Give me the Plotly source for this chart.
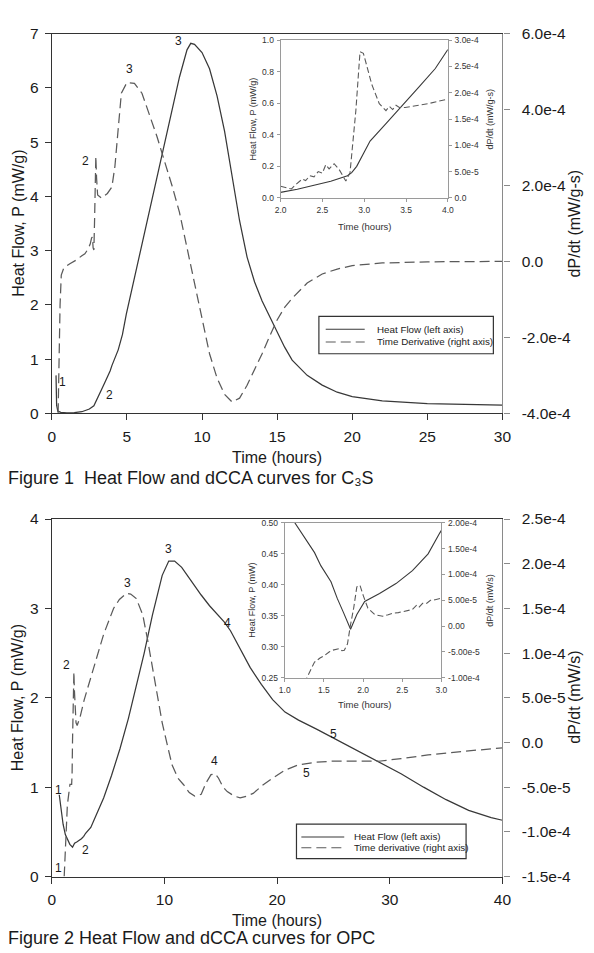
import plotly.graph_objects as go

W, H = 594, 953

# ---------------- Figure 1 (C3S) main data ----------------
f1_t_heat = [0.28, 0.32, 0.4, 0.6, 1.0, 1.5, 2.0, 2.5, 2.8, 3.0, 3.12, 3.5, 3.88, 4.0, 4.42, 4.7, 4.96,
             5.5, 6.0, 6.5, 7.0, 7.5, 8.0, 8.5, 9.0, 9.25, 9.5, 10.0, 10.5, 11.0, 11.5, 12.0, 12.5,
             13.0, 13.5, 14.0, 14.5, 15.0, 15.5, 16.0, 17.0, 18.0, 19.0, 20.0, 22.0, 25.0, 30.0]
f1_heat = [0.70, 0.15, 0.04, 0.02, 0.01, 0.012, 0.03, 0.08, 0.14, 0.25, 0.32, 0.55, 0.78, 0.88, 1.17, 1.45, 1.83,
           2.5, 3.1, 3.7, 4.3, 4.95, 5.6, 6.2, 6.7, 6.82, 6.8, 6.65, 6.35, 5.85, 5.2, 4.35, 3.55,
           2.88, 2.42, 2.07, 1.78, 1.5, 1.22, 0.98, 0.7, 0.52, 0.39, 0.31, 0.23, 0.18, 0.15]

f1_t_der = [0.42, 0.48, 0.55, 0.63, 0.8, 1.2, 1.6, 2.0, 2.2, 2.4, 2.55, 2.65, 2.7, 2.75, 2.8, 2.85, 2.93,
            2.98, 3.05, 3.3, 3.7, 4.0, 4.2, 4.4, 4.63, 5.0, 5.5, 6.0, 6.5, 7.0, 7.5, 8.0, 8.5, 9.0,
            9.5, 10.0, 10.5, 11.0, 11.5, 12.0, 12.5, 13.0, 13.5, 14.0, 14.5, 15.0, 15.5, 16.0, 17.0,
            18.0, 19.0, 20.0, 22.0, 25.0, 30.0]
f1_der_e4 = [-4.0, -2.57, -1.14, -0.36, -0.17, -0.06, 0.03, 0.15, 0.2, 0.32, 0.45, 0.62, 0.64, 0.36, 0.3, 1.14, 2.77,
             2.2, 1.75, 1.67, 1.79, 1.96, 2.5, 3.4, 4.43, 4.71, 4.69, 4.43, 3.86, 3.29, 2.64, 2.0, 1.29, 0.36,
             -0.64, -1.57, -2.43, -3.07, -3.5, -3.7, -3.6, -3.26, -2.86, -2.43, -1.97, -1.54, -1.21, -0.97, -0.57,
             -0.33, -0.2, -0.11, -0.04, -0.01, 0.0]
f1_der = [v * 1e-4 for v in f1_der_e4]

# ---------------- Figure 1 inset data ----------------
f1i_t_heat = [2.0, 2.2, 2.4, 2.6, 2.8, 2.85, 2.91, 3.0, 3.07, 3.26, 3.46, 3.65, 3.85, 4.0]
f1i_heat = [0.035, 0.055, 0.08, 0.105, 0.14, 0.16, 0.2, 0.29, 0.36, 0.47, 0.585, 0.7, 0.82, 0.94]
f1i_t_der = [2.0, 2.07, 2.13, 2.18, 2.21, 2.26, 2.3, 2.35, 2.4, 2.45, 2.5, 2.54, 2.58, 2.64, 2.7, 2.78,
             2.83, 2.9, 2.95, 2.99, 3.09, 3.18, 3.26, 3.3, 3.34, 3.38, 3.42, 3.49, 3.76, 4.0]
f1i_der_e4 = [0.22, 0.2, 0.17, 0.25, 0.29, 0.36, 0.33, 0.42, 0.4, 0.5, 0.47, 0.63, 0.55, 0.65, 0.54, 0.32,
              0.48, 1.66, 2.78, 2.75, 2.16, 1.79, 1.66, 1.74, 1.68, 1.76, 1.72, 1.72, 1.79, 1.88]
f1i_der = [v * 1e-4 for v in f1i_der_e4]

# ---------------- Figure 2 (OPC) main data ----------------
f2_t_heat = [0.66, 0.8, 1.0, 1.2, 1.44, 1.6, 1.84, 1.92, 2.02, 2.21, 2.42, 2.63, 2.83, 3.0, 3.46, 4.0,
             4.6, 5.3, 6.05, 6.8, 7.5, 8.2, 8.94, 9.4, 9.8, 10.38, 10.9, 11.53, 12.4, 13.26, 14.0,
             14.7, 15.3, 15.86, 16.7, 17.6, 18.6, 19.6, 20.7, 21.9, 23.5, 25.0, 27.0, 29.0, 31.0,
             33.0, 35.0, 37.0, 39.0, 40.0]
f2_heat = [0.915, 0.76, 0.585, 0.47, 0.40, 0.36, 0.328, 0.352, 0.373, 0.386, 0.402, 0.423, 0.45, 0.484, 0.55, 0.7,
           0.88, 1.13, 1.43, 1.77, 2.12, 2.5, 2.93, 3.17, 3.37, 3.53, 3.53, 3.46, 3.3, 3.15, 3.03,
           2.93, 2.85, 2.75, 2.55, 2.34, 2.15, 1.98, 1.84, 1.75, 1.65, 1.55, 1.42, 1.29, 1.15,
           1.0, 0.86, 0.74, 0.66, 0.63]

f2_t_der = [1.1, 1.2, 1.28, 1.38, 1.51, 1.61, 1.76, 1.8, 1.84, 1.88, 1.92, 1.96, 2.0, 2.06, 2.15, 2.25,
            2.5, 2.88, 3.75, 4.6, 5.48, 6.0, 6.63, 7.0, 7.5, 8.07, 8.5, 8.94, 9.4, 9.8, 10.2, 10.67,
            11.2, 11.68, 12.2, 12.68, 13.26, 13.7, 14.13, 14.5, 14.8, 15.2, 15.57, 16.2, 16.72, 17.3,
            17.87, 18.7, 19.6, 20.7, 21.9, 23.5, 24.8, 27.0, 29.0, 31.0, 33.4, 36.5, 40.0]
f2_der_e4 = [-1.5, -1.25, -1.0, -0.7, -0.57, -0.47, -0.47, -0.35, 0.03, 0.35, 0.76, 0.79, 0.6, 0.35, 0.22, 0.19,
             0.28, 0.48, 0.84, 1.21, 1.5, 1.6, 1.67, 1.66, 1.61, 1.43, 1.15, 0.84, 0.5, 0.22, 0.0, -0.25,
             -0.4, -0.47, -0.56, -0.6, -0.58, -0.45, -0.36, -0.35, -0.4, -0.5, -0.55, -0.6, -0.62, -0.6,
             -0.57, -0.48, -0.4, -0.31, -0.25, -0.22, -0.21, -0.21, -0.21, -0.18, -0.14, -0.1, -0.06]
f2_der = [v * 1e-4 for v in f2_der_e4]

# ---------------- Figure 2 inset data ----------------
f2i_t_heat = [1.0, 1.13, 1.38, 1.46, 1.59, 1.67, 1.75, 1.84, 1.92, 2.02, 2.21, 2.42, 2.63, 2.83, 2.98, 3.0]
f2i_heat = [0.53, 0.50, 0.452, 0.431, 0.405, 0.378, 0.355, 0.328, 0.352, 0.373, 0.386, 0.402, 0.423, 0.45, 0.484, 0.488]
f2i_t_der = [1.25, 1.28, 1.38, 1.45, 1.51, 1.57, 1.61, 1.69, 1.73, 1.76, 1.8, 1.84, 1.88, 1.92, 1.96, 2.0,
             2.06, 2.15, 2.25, 2.32, 2.38, 2.45, 2.5, 2.57, 2.63, 2.68, 2.71, 2.76, 2.81, 2.86, 2.92, 3.0]
f2i_der_e4 = [-1.1, -1.0, -0.7, -0.62, -0.57, -0.5, -0.47, -0.44, -0.48, -0.47, -0.35, 0.03, 0.35, 0.76, 0.79, 0.6,
              0.35, 0.22, 0.19, 0.22, 0.25, 0.26, 0.28, 0.3, 0.32, 0.4, 0.36, 0.44, 0.44, 0.5, 0.51, 0.54]
f2i_der = [v * 1e-4 for v in f2i_der_e4]

# tick labels
f1_x_ticks = [0, 5, 10, 15, 20, 25, 30]
f1_y_ticks = [0, 1, 2, 3, 4, 5, 6, 7]
f1_y2_vals = [-4e-4, -2e-4, 0.0, 2e-4, 4e-4, 6e-4]
f1_y2_text = ["-4.0e-4", "-2.0e-4", "0.0", "2.0e-4", "4.0e-4", "6.0e-4"]
f1i_x_ticks = [2.0, 2.5, 3.0, 3.5, 4.0]
f1i_x_text = ["2.0", "2.5", "3.0", "3.5", "4.0"]
f1i_y_ticks = [0.0, 0.2, 0.4, 0.6, 0.8, 1.0]
f1i_y_text = ["0.0", "0.2", "0.4", "0.6", "0.8", "1.0"]
f1i_y2_vals = [0.0, 5e-5, 1e-4, 1.5e-4, 2e-4, 2.5e-4, 3e-4]
f1i_y2_text = ["0.0", "5.0e-5", "1.0e-4", "1.5e-4", "2.0e-4", "2.5e-4", "3.0e-4"]

f2_x_ticks = [0, 10, 20, 30, 40]
f2_y_ticks = [0, 1, 2, 3, 4]
f2_y2_vals = [-1.5e-4, -1e-4, -5e-5, 0.0, 5e-5, 1e-4, 1.5e-4, 2e-4, 2.5e-4]
f2_y2_text = ["-1.5e-4", "-1.0e-4", "-5.0e-5", "0.0", "5.0e-5", "1.0e-4", "1.5e-4", "2.0e-4", "2.5e-4"]
f2i_x_ticks = [1.0, 1.5, 2.0, 2.5, 3.0]
f2i_x_text = ["1.0", "1.5", "2.0", "2.5", "3.0"]
f2i_y_ticks = [0.25, 0.30, 0.35, 0.40, 0.45, 0.50]
f2i_y_text = ["0.25", "0.30", "0.35", "0.40", "0.45", "0.50"]
f2i_y2_vals = [-1e-4, -5e-5, 0.0, 5e-5, 1e-4, 1.5e-4, 2e-4]
f2i_y2_text = ["-1.00e-4", "-5.00e-5", "0.00", "5.00e-5", "1.00e-4", "1.50e-4", "2.00e-4"]

# peak labels: (text, time, heat-flow units)
f1_labels = [("1", 0.73, 0.57), ("2", 3.83, 0.34), ("2", 2.25, 4.65), ("3", 5.15, 6.35), ("3", 8.45, 6.87)]
f2_labels = [("1", 0.63, 0.97), ("1", 0.63, 0.09), ("2", 1.32, 2.37), ("2", 2.97, 0.30),
             ("3", 6.69, 3.28), ("3", 10.4, 3.66), ("4", 15.6, 2.84), ("4", 14.4, 1.29),
             ("5", 25.0, 1.59), ("5", 22.6, 1.16)]

FONT = "Liberation Sans, Arial, sans-serif"
SOLID = "#383838"
DASHC = "#5a5a5a"
MAIN_DASH = "10px,5px"
INSET_DASH = "6px,3px"


def px_x(p):
    return p / W


def px_y(p):
    return 1 - p / H


fig = go.Figure()

def add_line(x, y, xa, ya, dashed, name, inset=False):
    fig.add_trace(go.Scatter(
        x=x, y=y, xaxis=xa, yaxis=ya, mode="lines", name=name, showlegend=False,
        line=dict(color=DASHC if dashed else SOLID, width=1.1 if inset else 1.25,
                  dash=(INSET_DASH if inset else MAIN_DASH) if dashed else "solid"),
        hoverinfo="skip"))

add_line(f1_t_heat, f1_heat, "x", "y", False, "Heat Flow (left axis)")
add_line(f1_t_der, f1_der, "x", "y2", True, "Time Derivative (right axis)")
add_line(f1i_t_heat, f1i_heat, "x2", "y3", False, "Heat Flow", inset=True)
add_line(f1i_t_der, f1i_der, "x2", "y4", True, "dP/dt", inset=True)
add_line(f2_t_heat, f2_heat, "x3", "y5", False, "Heat Flow (left axis)")
add_line(f2_t_der, f2_der, "x3", "y6", True, "Time derivative (right axis)")
add_line(f2i_t_heat, f2i_heat, "x4", "y7", False, "Heat Flow", inset=True)
add_line(f2i_t_der, f2i_der, "x4", "y8", True, "dP/dt", inset=True)

main_x_dom = [px_x(47), px_x(509.3)]
f1_y_dom = [px_y(411.7), px_y(25)]
f2_y_dom = [px_y(883.3), px_y(519.3)]
f1i_x_dom = [px_x(281.7), px_x(453.3)]
f1i_y_dom = [px_y(192.3), px_y(31.7)]
f2i_x_dom = [px_x(286), px_x(446.7)]
f2i_y_dom = [px_y(680.7), px_y(523.3)]

def main_axis(**kw):
    d = dict(showgrid=False, zeroline=False, showline=True, linecolor="#333", linewidth=1.2,
             ticks="outside", ticklen=6, tickwidth=1.2, tickcolor="#333",
             tickfont=dict(family=FONT, size=15.5, color="#1a1a1a"), ticklabelstandoff=3)
    d.update(kw)
    return d

def inset_axis(**kw):
    d = dict(showgrid=False, zeroline=False, showline=True, linecolor="#9a9a9a", linewidth=1,
             ticks="outside", ticklen=3, tickwidth=1, tickcolor="#9a9a9a",
             tickfont=dict(family=FONT, size=8.5, color="#333"), ticklabelstandoff=1)
    d.update(kw)
    return d

fig.update_layout(
    width=W, height=H, margin=dict(l=0, r=0, t=0, b=0),
    paper_bgcolor="white", plot_bgcolor="rgba(0,0,0,0)",
    showlegend=False, font=dict(family=FONT, color="#1a1a1a"),
    xaxis=main_axis(domain=main_x_dom, range=[0, 30], anchor="y", tickvals=f1_x_ticks, mirror=True),
    yaxis=main_axis(domain=f1_y_dom, range=[0, 7], anchor="x", tickvals=f1_y_ticks),
    yaxis2=main_axis(overlaying="y", side="right", anchor="x", range=[-4e-4, 6e-4],
                     tickvals=f1_y2_vals, ticktext=f1_y2_text, linecolor="#8a8a8a", tickcolor="#8a8a8a",
                     ticklabelstandoff=9),
    xaxis2=inset_axis(domain=f1i_x_dom, range=[2, 4], anchor="y3", tickvals=f1i_x_ticks,
                      ticktext=f1i_x_text, mirror=True),
    yaxis3=inset_axis(domain=f1i_y_dom, range=[0, 1], anchor="x2", tickvals=f1i_y_ticks,
                      ticktext=f1i_y_text),
    yaxis4=inset_axis(overlaying="y3", side="right", anchor="x2", range=[0, 3e-4],
                      tickvals=f1i_y2_vals, ticktext=f1i_y2_text),
    xaxis3=main_axis(domain=main_x_dom, range=[0, 40], anchor="y5", tickvals=f2_x_ticks, mirror=True),
    yaxis5=main_axis(domain=f2_y_dom, range=[0, 4], anchor="x3", tickvals=f2_y_ticks),
    yaxis6=main_axis(overlaying="y5", side="right", anchor="x3", range=[-1.5e-4, 2.5e-4],
                     tickvals=f2_y2_vals, ticktext=f2_y2_text, linecolor="#8a8a8a", tickcolor="#8a8a8a",
                     ticklabelstandoff=9),
    xaxis4=inset_axis(domain=f2i_x_dom, range=[1, 3], anchor="y7", tickvals=f2i_x_ticks,
                      ticktext=f2i_x_text, mirror=True),
    yaxis7=inset_axis(domain=f2i_y_dom, range=[0.25, 0.5], anchor="x4", tickvals=f2i_y_ticks,
                      ticktext=f2i_y_text),
    yaxis8=inset_axis(overlaying="y7", side="right", anchor="x4", range=[-1e-4, 2e-4],
                      tickvals=f2i_y2_vals, ticktext=f2i_y2_text),
)

ann = []

def paper_text(text, px, py, size, angle=0, xanchor="center", color="#1a1a1a"):
    ann.append(dict(text=text, x=px_x(px), y=px_y(py), xref="paper", yref="paper",
                    showarrow=False, textangle=angle, xanchor=xanchor, yanchor="middle",
                    font=dict(family=FONT, size=size, color=color)))

# main axis titles
paper_text("Heat Flow, P (mW/g)", 12, 218, 16, -90)
paper_text("dP/dt (mW/g-s)", 583, 218, 16, -90)
paper_text("Time (hours)", 278, 457, 16)
paper_text("Heat Flow, P (mW/g)", 12, 701, 16, -90)
paper_text("dP/dt (mW/s)", 583, 701, 16, -90)
paper_text("Time (hours)", 278, 928, 16)
# inset axis titles
paper_text("Heat Flow, P (mW/g)", 253, 112, 9, -90, color="#333")
paper_text("dP/dt (mW/g-s)", 497, 112, 9, -90, color="#333")
paper_text("Time (hours)", 368, 221, 9.5, color="#333")
paper_text("Heat Flow, P (mW)", 253, 602, 9, -90, color="#333")
paper_text("dP/dt (mW/s)", 497, 602, 9, -90, color="#333")
paper_text("Time (hours)", 368, 708, 9.5, color="#333")
# captions
paper_text("Figure 1\u00a0\u00a0Heat Flow and dCCA curves for C\u2083S", 0, 478, 18, xanchor="left")
paper_text("Figure 2 Heat Flow and dCCA curves for OPC", 0, 946, 18, xanchor="left")

for t, x, y in f1_labels:
    ann.append(dict(text=t, x=x, y=y, xref="x", yref="y", showarrow=False,
                    font=dict(family=FONT, size=12, color="#1a1a1a")))
for t, x, y in f2_labels:
    ann.append(dict(text=t, x=x, y=y, xref="x3", yref="y5", showarrow=False,
                    font=dict(family=FONT, size=12, color="#1a1a1a")))

# legends (boxed keys)
shapes = []

def legend_box(x0, y0, x1, y1, rows, names, lx0, lx1, tx):
    shapes.append(dict(type="rect", xref="paper", yref="paper", x0=px_x(x0), x1=px_x(x1),
                       y0=px_y(y1), y1=px_y(y0), line=dict(color="#333", width=1.2),
                       fillcolor="white", layer="above"))
    for i, (ry, nm) in enumerate(zip(rows, names)):
        shapes.append(dict(type="line", xref="paper", yref="paper", x0=px_x(lx0), x1=px_x(lx1),
                           y0=px_y(ry), y1=px_y(ry),
                           line=dict(color=SOLID if i == 0 else DASHC, width=1.1,
                                     dash="solid" if i == 0 else MAIN_DASH)))
        paper_text(nm, tx, ry, 9.8, xanchor="left", color="#222")

legend_box(321, 313, 500, 351, [326, 339], ["Heat Flow (left axis)", "Time Derivative (right axis)"],
           328, 368, 379)
legend_box(298, 830, 472, 865, [843, 854], ["Heat Flow (left axis)", "Time derivative (right axis)"],
           303, 347, 355)

fig.update_layout(annotations=ann, shapes=shapes)
fig.write_html("out.html")
